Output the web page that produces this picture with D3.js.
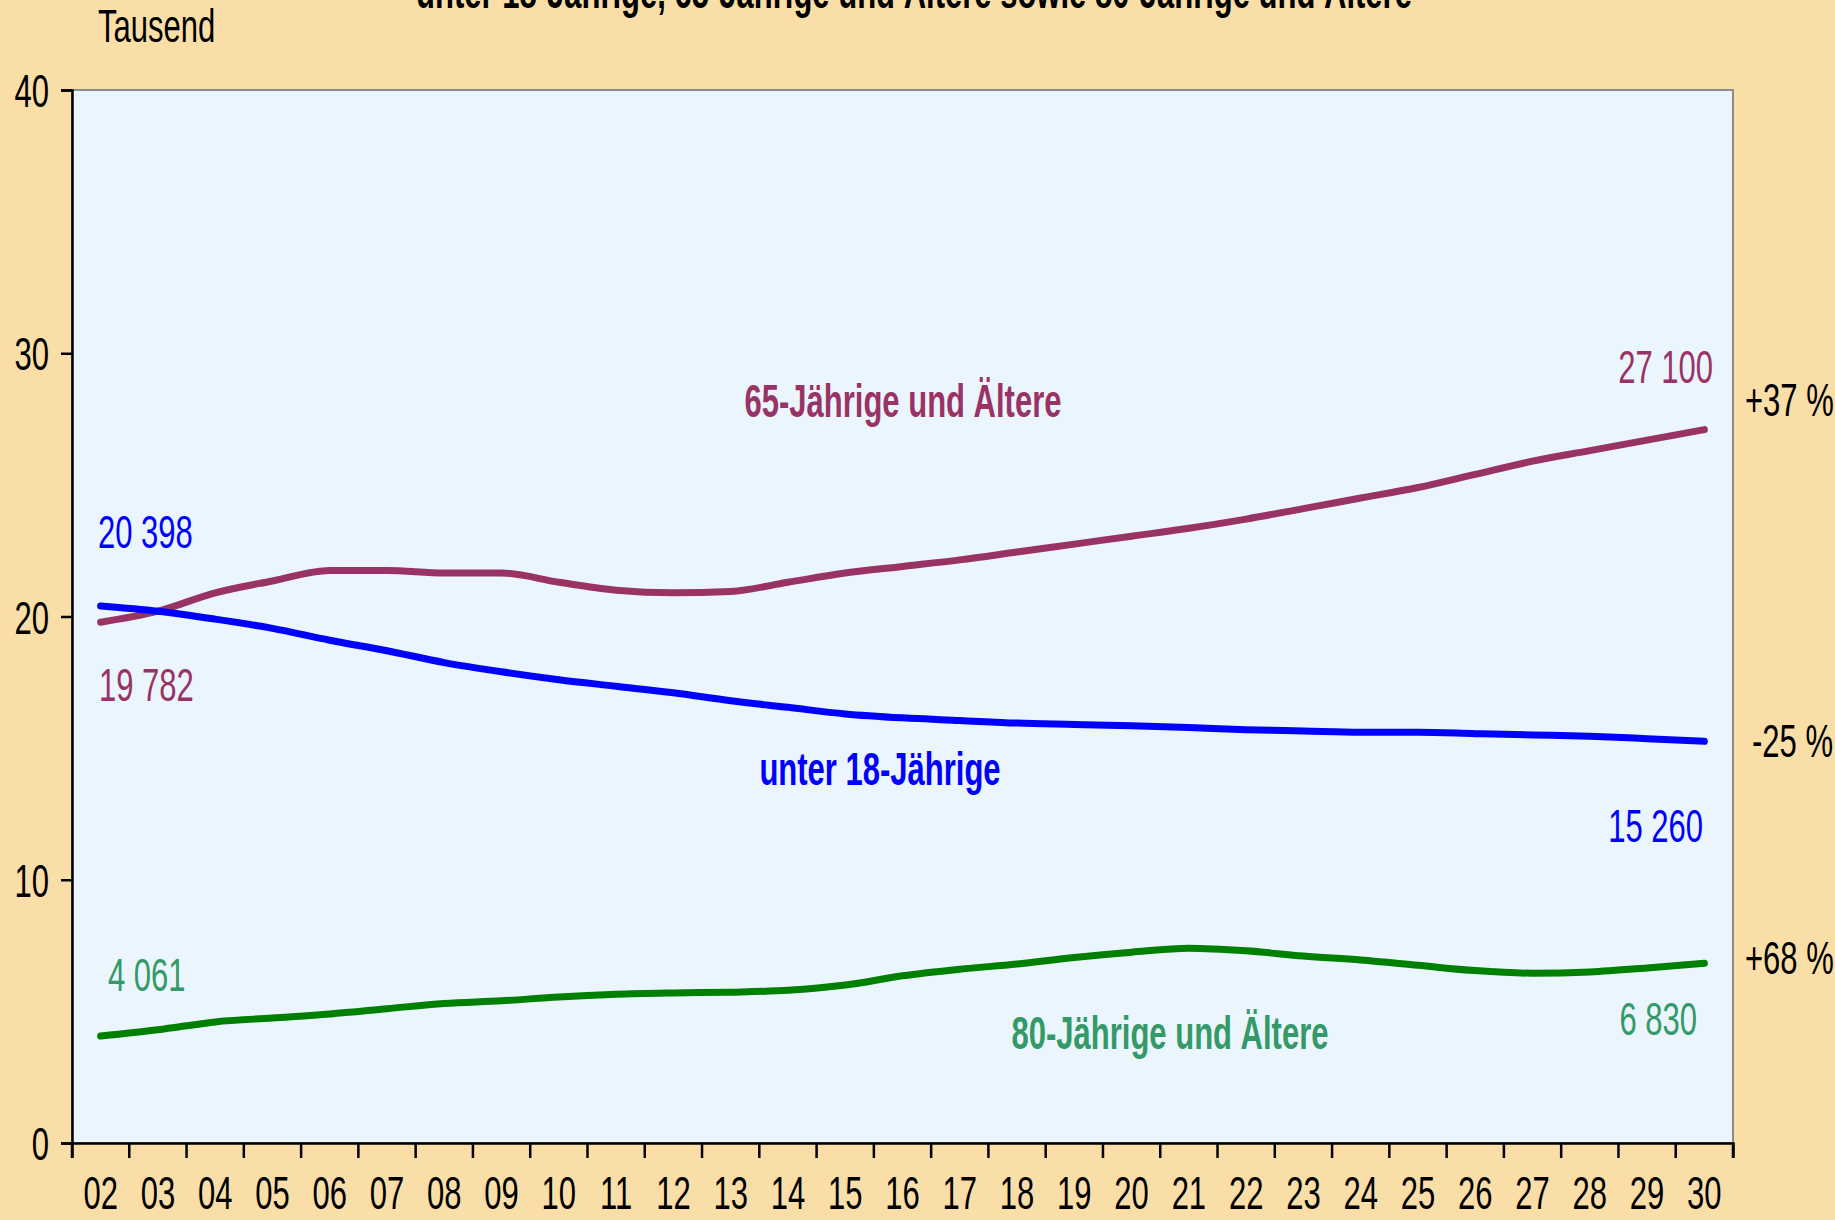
<!DOCTYPE html>
<html>
<head>
<meta charset="utf-8">
<script src="https://cdn.jsdelivr.net/npm/d3@7"></script>
<style>
  html, body { margin: 0; padding: 0; background: #f9dea8; }
  svg { display: block; }
  text { font-family: "Liberation Sans", Arial, sans-serif; }
</style>
</head>
<body>
<div class="chart"></div>
<script>
// Jahre 2002 - 2030, Werte in Tausend
let years = ["02","03","04","05","06","07","08","09","10","11","12","13","14","15","16",
             "17","18","19","20","21","22","23","24","25","26","27","28","29","30"];

let unter18 = [20.398, 20.2, 19.9, 19.55, 19.1, 18.7, 18.25, 17.9, 17.6, 17.35, 17.1, 16.8,
               16.55, 16.3, 16.15, 16.05, 15.95, 15.9, 15.85, 15.78, 15.7, 15.65, 15.6, 15.6,
               15.55, 15.5, 15.45, 15.36, 15.26];

let ab65 = [19.782, 20.2, 20.9, 21.35, 21.75, 21.75, 21.65, 21.65, 21.3, 21.0, 20.9, 20.95,
            21.3, 21.65, 21.9, 22.15, 22.45, 22.75, 23.05, 23.35, 23.7, 24.1, 24.5, 24.9,
            25.4, 25.9, 26.3, 26.7, 27.1];

let ab80 = [4.061, 4.3, 4.6, 4.75, 4.9, 5.1, 5.3, 5.4, 5.55, 5.65, 5.7, 5.73, 5.8, 6.0,
            6.35, 6.6, 6.8, 7.05, 7.25, 7.4, 7.3, 7.1, 6.95, 6.75, 6.55, 6.45, 6.5, 6.65, 6.83];

let yTicks = [0, 10, 20, 30, 40];

let width = 1835,
    height = 1220,
    plotLeft = 72, plotRight = 1733, plotTop = 90, plotBottom = 1143,
    sx = 0.66; // schmale Schrift

let svg = d3.select(".chart")
  .append("svg")
  .attr("width", width)
  .attr("height", height);

let x = d3.scaleBand()
  .domain(years)
  .range([plotLeft, plotRight]);

let y = d3.scaleLinear()
  .domain([0, 40])
  .range([plotBottom, plotTop]);

function label(txt, px, py, anchor, color, bold) {
  svg.append("text")
    .attr("transform", "translate(" + px + "," + py + ") scale(" + sx + ",1)")
    .attr("text-anchor", anchor)
    .attr("fill", color)
    .attr("font-size", 47)
    .attr("font-weight", bold ? "bold" : "normal")
    .text(txt);
}

// Plotfläche
svg.append("rect")
  .attr("x", plotLeft)
  .attr("y", plotTop)
  .attr("width", plotRight - plotLeft)
  .attr("height", plotBottom - plotTop)
  .attr("fill", "#eaf5fd")
  .attr("stroke", "#8c8c8c")
  .attr("stroke-width", 2);

// y-Achse
svg.append("g")
  .attr("transform", "translate(" + plotLeft + ",0)")
  .call(d3.axisLeft(y).tickValues(yTicks).tickSize(11).tickFormat(""))
  .call(g => g.selectAll("path, line").attr("stroke", "#000").attr("stroke-width", 2.5));

yTicks.forEach(function(t) {
  label(t, 49, y(t) + 17, "end", "#000", false);
});

// x-Achse: Striche an den Grenzen der Kategorien
let xAxis = d3.axisBottom(x).tickSize(15).tickFormat("");
svg.append("g")
  .attr("transform", "translate(0," + plotBottom + ")")
  .call(xAxis)
  .call(g => g.selectAll(".tick").attr("transform", d => "translate(" + x(d) + ",0)"))
  .call(g => g.selectAll("path, line").attr("stroke", "#000").attr("stroke-width", 2.5));

svg.append("line")
  .attr("x1", plotRight).attr("x2", plotRight)
  .attr("y1", plotBottom).attr("y2", plotBottom + 15)
  .attr("stroke", "#000").attr("stroke-width", 2.5);

years.forEach(function(yr) {
  label(yr, x(yr) + x.bandwidth() / 2, 1209, "middle", "#000", false);
});

// Linien
let line = d3.line()
  .x((d, i) => x(years[i]) + x.bandwidth() / 2)
  .y(d => y(d))
  .curve(d3.curveMonotoneX);

let series = [
  { values: ab65, color: "#993366" },
  { values: unter18, color: "#0000ff" },
  { values: ab80, color: "#008000" }
];

svg.selectAll("path.series")
  .data(series)
  .enter()
  .append("path")
  .attr("class", "series")
  .attr("d", d => line(d.values))
  .attr("fill", "none")
  .attr("stroke", d => d.color)
  .attr("stroke-width", 7)
  .attr("stroke-linecap", "round")
  .attr("stroke-linejoin", "round");

// Beschriftungen
label("Tausend", 98, 42, "start", "#000", false);
label("unter 18-Jährige, 65-Jährige und Ältere sowie 80-Jährige und Ältere", 914, 8, "middle", "#000", true);

label("20 398", 98, 548, "start", "#0000ff", false);
label("19 782", 99, 701, "start", "#993366", false);
label("4 061", 108, 991, "start", "#339966", false);

label("27 100", 1713, 383, "end", "#993366", false);
label("15 260", 1703, 842, "end", "#0000ff", false);
label("6 830", 1697, 1035, "end", "#339966", false);

label("65-Jährige und Ältere", 903, 417, "middle", "#993366", true);
label("unter 18-Jährige", 880, 785, "middle", "#0000ff", true);
label("80-Jährige und Ältere", 1170, 1049, "middle", "#339966", true);

label("+37 %", 1745, 416, "start", "#000", false);
label("-25 %", 1752, 757, "start", "#000", false);
label("+68 %", 1745, 974, "start", "#000", false);
</script>
</body>
</html>
